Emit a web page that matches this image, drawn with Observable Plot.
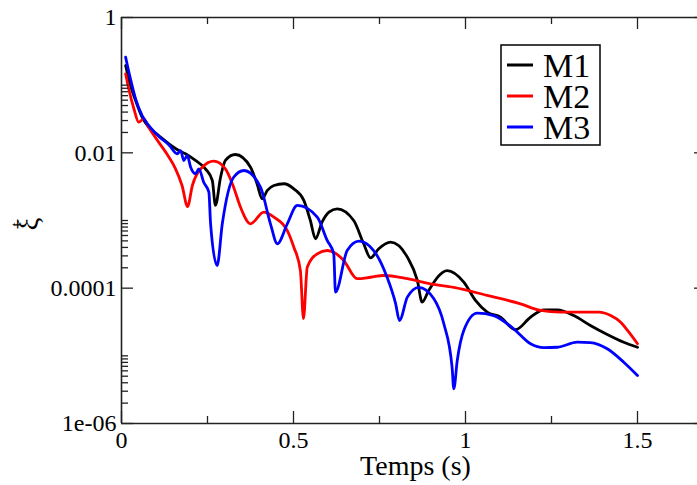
<!DOCTYPE html>
<html>
<head>
<meta charset="utf-8">
<script src="https://cdn.jsdelivr.net/npm/d3@7"></script>
<script src="https://cdn.jsdelivr.net/npm/@observablehq/plot@0.6"></script>
<style>
  html, body { margin: 0; padding: 0; background: #fff; }
  #chart svg { display: block; }
</style>
</head>
<body>
<div id="chart"></div>
<script>
// ---- data ----
const seriesNames  = ["M1", "M2", "M3"];
const seriesColors = ["#000000", "#ff0000", "#0000ff"];

const m1Time = [0.012,0.026,0.041,0.060,0.079,0.108,0.138,0.167,0.186,0.215,0.244,0.264,0.273,0.288,0.302,0.331,0.375,0.394,0.409,0.424,0.443,0.472,0.501,0.530,0.549,0.564,0.583,0.603,0.627,0.675,0.704,0.724,0.748,0.782,0.831,0.860,0.874,0.893,0.947,0.995,1.029,1.063,1.102,1.145,1.189,1.228,1.267,1.315,1.363,1.412,1.460,1.5];
const m1Value = [0.195,0.0989,0.0593,0.0336,0.0239,0.018,0.0136,0.0108,0.00968,0.00771,0.00581,0.0039,0.00167,0.00436,0.00771,0.00945,0.00614,0.00349,0.00209,0.00278,0.00329,0.00349,0.00294,0.00198,0.001,0.000537,0.000944,0.00133,0.00149,0.001,0.000453,0.000281,0.000382,0.000478,0.000287,0.00013,0.0000621,0.0000924,0.000182,0.000123,0.0000658,0.0000442,0.0000372,0.0000243,0.0000372,0.0000479,0.0000479,0.0000394,0.0000281,0.0000207,0.0000159,0.0000134];

const m2Time = [0.012,0.021,0.036,0.050,0.065,0.079,0.108,0.138,0.157,0.176,0.192,0.206,0.235,0.268,0.302,0.326,0.346,0.375,0.414,0.443,0.482,0.501,0.520,0.529,0.540,0.569,0.598,0.617,0.646,0.685,0.724,0.762,0.831,0.898,0.966,1.063,1.160,1.218,1.276,1.388,1.422,1.451,1.475,1.5];
const m2Value = [0.147,0.0884,0.0448,0.0284,0.0318,0.0239,0.0144,0.00863,0.00581,0.00329,0.00161,0.00329,0.00613,0.00752,0.00581,0.00311,0.00157,0.000894,0.00133,0.00112,0.000711,0.000403,0.000182,0.0000356,0.000204,0.000322,0.00036,0.00034,0.000257,0.000138,0.000145,0.000154,0.000138,0.000116,0.000103,0.000078,0.0000587,0.0000468,0.0000442,0.0000442,0.0000394,0.0000314,0.0000224,0.0000151];

const m3Time = [0.012,0.026,0.041,0.060,0.079,0.108,0.138,0.162,0.172,0.181,0.191,0.201,0.215,0.225,0.239,0.254,0.259,0.278,0.293,0.326,0.356,0.404,0.433,0.453,0.482,0.511,0.569,0.598,0.617,0.622,0.656,0.690,0.733,0.772,0.797,0.808,0.831,0.864,0.908,0.937,0.961,0.966,0.976,0.995,1.034,1.082,1.140,1.189,1.228,1.267,1.325,1.363,1.412,1.460,1.5];
const m3Value = [0.259,0.124,0.0629,0.0356,0.0254,0.0176,0.0131,0.00968,0.0108,0.00771,0.00914,0.00613,0.0049,0.00581,0.00368,0.00262,0.000894,0.000216,0.000894,0.00436,0.00548,0.00311,0.000894,0.000453,0.000894,0.00167,0.00112,0.000507,0.000322,0.0000873,0.00036,0.000495,0.00036,0.000145,0.0000587,0.0000333,0.0000736,0.000103,0.0000697,0.0000298,0.00000679,0.00000326,0.00000853,0.0000237,0.0000427,0.0000394,0.0000251,0.0000151,0.0000132,0.0000134,0.0000159,0.0000157,0.0000127,0.00000806,0.00000513];

const xTicks = [0, 0.5, 1, 1.5];
const xTickLabels = ["0", "0.5", "1", "1.5"];
const xMinorTicks = [0.25, 0.75, 1.25];
const yTicks = [1, 0.01, 0.0001, 0.000001];
const yTickLabels = ["1", "0.01", "0.0001", "1e-06"];
const yMinorTicks = [0.02,0.03,0.04,0.05,0.06,0.07,0.08,0.09,0.1,
                     0.0002,0.0003,0.0004,0.0005,0.0006,0.0007,0.0008,0.0009,0.001,
                     0.000002,0.000003,0.000004,0.000005,0.000006,0.000007,0.000008,0.000009,0.00001];
const xLabel = "Temps (s)";
const yLabelMain = "ξ";
const yLabelSup = "t";

// ---- build table ----
const seriesTimes = [m1Time, m2Time, m3Time];
const seriesValues = [m1Value, m2Value, m3Value];
const rows = [];
seriesNames.forEach((name, s) => {
  seriesTimes[s].forEach((t, i) => rows.push({series: name, t, v: seriesValues[s][i]}));
});

// ---- layout ----
const W = 697, H = 485;
const mL = 121, mR = 0, mT = 17, mB = 62;
const plotW = W - mL - mR, plotH = H - mT - mB;
const FONT = "'Liberation Serif', 'Times New Roman', 'DejaVu Serif', serif";
const axisColor = "#222";
const xLabelMap = new Map(xTicks.map((d, i) => [d, xTickLabels[i]]));
const yLabelMap = new Map(yTicks.map((d, i) => [d, yTickLabels[i]]));

const chart = Plot.plot({
  width: W, height: H,
  marginLeft: mL, marginRight: mR, marginTop: mT, marginBottom: mB,
  style: {fontFamily: FONT, background: "#fff", color: "#000"},
  x: {domain: [0, 1.7], range: [mL, 705.8], label: null},
  y: {type: "log", domain: [1e-6, 1], label: null},
  color: {domain: seriesNames, range: seriesColors},
  marks: [
    Plot.line(rows, {x: "t", y: "v", z: "series", stroke: "series", strokeWidth: 2.8,
                     curve: "monotone-x", strokeLinejoin: "round", strokeLinecap: "round"}),
    // frame
    Plot.ruleY([1e-6, 1], {stroke: axisColor, strokeWidth: 1.6}),
    Plot.ruleX([0], {stroke: axisColor, strokeWidth: 1.6}),
    // bottom & top ticks
    Plot.ruleX(xTicks, {stroke: axisColor, strokeWidth: 1.3, insetTop: plotH - 12}),
    Plot.ruleX(xMinorTicks, {stroke: axisColor, strokeWidth: 1.3, insetTop: plotH - 7}),
    Plot.ruleX(xTicks, {stroke: axisColor, strokeWidth: 1.3, insetBottom: plotH - 12}),
    Plot.ruleX(xMinorTicks, {stroke: axisColor, strokeWidth: 1.3, insetBottom: plotH - 7}),
    // left & right ticks
    Plot.ruleY(yTicks, {stroke: axisColor, strokeWidth: 1.3, insetRight: plotW - 12}),
    Plot.ruleY(yMinorTicks, {stroke: axisColor, strokeWidth: 1.3, insetRight: plotW - 7}),
    Plot.ruleY(yTicks, {stroke: axisColor, strokeWidth: 1.3, insetLeft: plotW - 3}),
    // tick labels
    Plot.axisX(xTicks, {tickSize: 0, tickPadding: 7, fontSize: 24, fontFamily: FONT, label: null,
                        tickFormat: d => xLabelMap.get(d)}),
    Plot.axisY(yTicks, {tickSize: 0, tickPadding: 5, fontSize: 24, fontFamily: FONT, label: null,
                        tickFormat: d => yLabelMap.get(d)}),
    // x axis title
    Plot.text([xLabel], {frameAnchor: "bottom", text: d => d, dx: 6, dy: 32,
                         lineAnchor: "top", fontSize: 28, fontFamily: FONT, fill: "#000"})
  ]
});

const svg = d3.select(chart);
svg.style("font-family", FONT);

// y axis title: xi with superscript t
const yTitle = svg.append("text")
  .attr("transform", "translate(38,224) rotate(-90)")
  .attr("text-anchor", "middle")
  .attr("font-family", FONT)
  .attr("font-size", 29)
  .attr("fill", "#000");
yTitle.append("tspan").text(yLabelMain);
yTitle.append("tspan").attr("font-size", 15).attr("dx", -9).attr("dy", -17).text(yLabelSup);

// legend
const lg = svg.append("g").attr("font-family", FONT).attr("text-anchor", "start");
lg.append("rect").attr("x", 501).attr("y", 45).attr("width", 99).attr("height", 100)
  .attr("fill", "#fff").attr("stroke", "#000").attr("stroke-width", 1.5);
seriesNames.forEach((name, i) => {
  const cy = 65 + i * 31;
  lg.append("line").attr("x1", 507).attr("x2", 533).attr("y1", cy).attr("y2", cy)
    .attr("stroke", seriesColors[i]).attr("stroke-width", 3);
  lg.append("text").attr("x", 543).attr("y", cy + 12).attr("font-size", 34)
    .attr("text-anchor", "start").attr("fill", "#000").text(name);
});

document.getElementById("chart").appendChild(chart);
</script>
</body>
</html>
